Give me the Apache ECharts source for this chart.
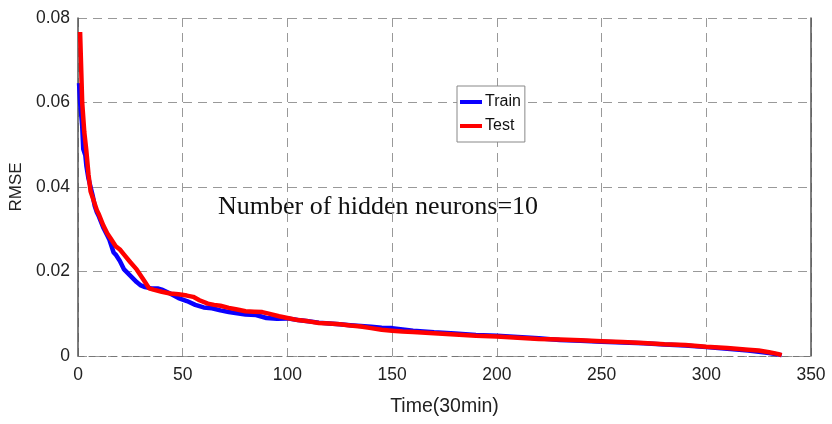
<!DOCTYPE html>
<html>
<head>
<meta charset="utf-8">
<script src="https://cdn.jsdelivr.net/npm/echarts@6/dist/echarts.min.js"></script>
<style>html,body{margin:0;padding:0;background:#fff}#c{width:832px;height:424px}</style>
</head>
<body>
<div id="c"></div>
<script>
const xTicks = [0, 50, 100, 150, 200, 250, 300, 350];
const yTicks = [0, 0.02, 0.04, 0.06, 0.08];

const trainX = [0.5, 1, 2, 2.5, 3.5, 4, 5, 6, 7, 8, 9, 10, 12, 14, 15, 17, 18, 20, 22, 24, 26, 28, 30, 32, 35, 38, 40, 44, 48, 52, 56, 60, 64, 68, 72, 76, 80, 85, 90, 95, 100, 105, 110, 115, 120, 125, 130, 135, 140, 145, 150, 155, 160, 170, 180, 190, 200, 210, 220, 230, 240, 250, 260, 270, 280, 290, 300, 310, 320, 330, 336];
const trainY = [0.0646, 0.060, 0.0545, 0.049, 0.0475, 0.045, 0.042, 0.040, 0.038, 0.0355, 0.034, 0.033, 0.0305, 0.0285, 0.0275, 0.0245, 0.024, 0.0225, 0.0205, 0.0195, 0.0185, 0.0175, 0.0167, 0.0163, 0.016, 0.016, 0.0157, 0.0148, 0.0137, 0.013, 0.0121, 0.0115, 0.0113, 0.0108, 0.0104, 0.0101, 0.0098, 0.0097, 0.009, 0.0088, 0.0089, 0.0085, 0.0082, 0.0079, 0.0077, 0.0075, 0.0073, 0.0071, 0.0069, 0.0067, 0.0066, 0.0063, 0.006, 0.0056, 0.0053, 0.005, 0.0048, 0.0045, 0.0042, 0.0038, 0.0036, 0.0034, 0.0032, 0.003, 0.0027, 0.0025, 0.0021, 0.0017, 0.0013, 0.0007, 0.0002];

const testX = [1, 2, 3, 4, 5, 6, 7, 8, 9, 10, 12, 14, 16, 18, 20, 22, 25, 28, 30, 32, 34, 36, 40, 44, 48, 52, 55, 58, 62, 65, 68, 72, 76, 80, 84, 88, 92, 96, 100, 105, 110, 115, 120, 125, 130, 135, 140, 145, 150, 155, 160, 170, 180, 190, 200, 210, 220, 230, 240, 250, 260, 270, 280, 290, 300, 310, 320, 325, 330, 334, 336];
const testY = [0.0767, 0.060, 0.053, 0.0485, 0.043, 0.039, 0.0375, 0.036, 0.0345, 0.0335, 0.031, 0.029, 0.0275, 0.026, 0.0252, 0.024, 0.0222, 0.0205, 0.019, 0.0175, 0.016, 0.0157, 0.0152, 0.0148, 0.0146, 0.0143, 0.014, 0.0132, 0.0124, 0.0121, 0.0119, 0.0114, 0.011, 0.0106, 0.0105, 0.0104, 0.0099, 0.0094, 0.009, 0.0085, 0.0082, 0.0078, 0.0077, 0.0075, 0.0072, 0.0070, 0.0066, 0.0062, 0.006, 0.0058, 0.0057, 0.0054, 0.0051, 0.0048, 0.0046, 0.0043, 0.0040, 0.0039, 0.0037, 0.0035, 0.0033, 0.0031, 0.0028, 0.0026, 0.0022, 0.0019, 0.0015, 0.0013, 0.0009, 0.0005, 0.0002];

const seriesNames = ['Train', 'Test'];
const annotation = 'Number of hidden neurons=10';

const pairs = (xs, ys) => xs.map((x, i) => [x, ys[i]]);
const font = '"Liberation Sans", Arial, sans-serif';

const chart = echarts.init(document.getElementById('c'), null, {renderer: 'canvas'});
chart.setOption({
  animation: false,
  backgroundColor: '#fff',
  grid: {left: 78, right: 21, top: 18, bottom: 68, containLabel: false, outerBoundsMode: 'none'},
  legend: {
    orient: 'vertical', left: 457, top: 86,
    data: seriesNames,
    icon: 'rect', itemWidth: 22, itemHeight: 4, itemGap: 8,
    padding: [8, 4, 8, 3],
    borderColor: '#888', borderWidth: 1, backgroundColor: '#fff',
    textStyle: {fontFamily: font, fontSize: 16, color: '#111', padding: [0, 0, 0, -2]}
  },
  xAxis: {
    type: 'value', min: xTicks[0], max: xTicks[xTicks.length - 1], interval: 50,
    name: 'Time(30min)', nameLocation: 'middle', nameGap: 41,
    nameTextStyle: {fontFamily: font, fontSize: 19.5, color: '#222'},
    axisLine: {show: true, lineStyle: {color: '#777', type: [6, 5], width: 1}},
    axisTick: {show: false},
    axisLabel: {fontFamily: font, fontSize: 17.5, color: '#222', margin: 10},
    splitLine: {show: true, lineStyle: {color: '#999', type: [9, 6], width: 1}}
  },
  yAxis: [{
    type: 'value', min: yTicks[0], max: yTicks[yTicks.length - 1], interval: 0.02,
    name: 'RMSE', nameLocation: 'middle', nameGap: 52, nameRotate: 90,
    nameTextStyle: {fontFamily: font, fontSize: 17, color: '#222'},
    axisLine: {show: true, lineStyle: {color: '#555', width: 1.5}},
    axisTick: {show: false},
    axisLabel: {fontFamily: font, fontSize: 17.5, color: '#222', margin: 8,
      formatter: v => v === 0 ? '0' : v.toFixed(2)},
    splitLine: {show: true, lineStyle: {color: '#999', type: [9, 6], width: 1}}
  }, {
    type: 'value', min: yTicks[0], max: yTicks[yTicks.length - 1], interval: 0.02,
    position: 'right',
    axisLine: {show: true, lineStyle: {color: '#555', width: 1.5}},
    axisTick: {show: false}, axisLabel: {show: false}, splitLine: {show: false}
  }],
  graphic: [{
    type: 'text', left: 218, top: 194,
    style: {text: annotation, font: '26px "Liberation Serif", "Times New Roman", serif', fill: '#111'}
  }],
  series: [{
    name: seriesNames[0], type: 'line', data: pairs(trainX, trainY),
    showSymbol: false, symbol: 'none',
    lineStyle: {color: '#0a00ff', width: 4.5}, itemStyle: {color: '#0a00ff'}, z: 2
  }, {
    name: seriesNames[1], type: 'line', data: pairs(testX, testY),
    showSymbol: false, symbol: 'none',
    lineStyle: {color: '#ff0000', width: 4.5}, itemStyle: {color: '#ff0000'}, z: 3
  }]
});
</script>
</body>
</html>
